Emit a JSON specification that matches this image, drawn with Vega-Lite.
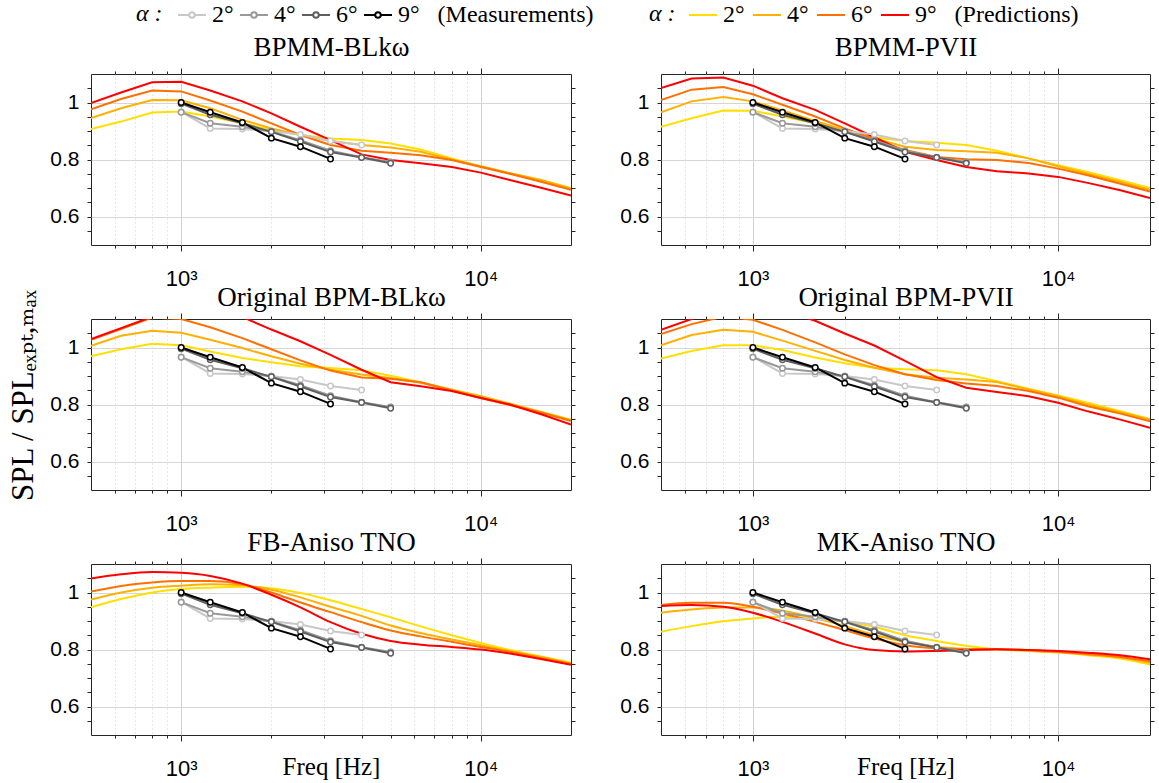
{
"$schema": "https://vega.github.io/schema/vega-lite/v6.json",
"padding": {"left": 7, "top": 0, "right": 0, "bottom": 0},
"config": {"view": {"stroke": "#262626", "strokeWidth": 1}, "font": "Liberation Sans"},
"datasets": {
"meas": [
{"a":2,"f":1000,"v":0.967},{"a":2,"f":1250,"v":0.909},{"a":2,"f":1600,"v":0.907},{"a":2,"f":2000,"v":0.900},{"a":2,"f":2500,"v":0.888},{"a":2,"f":3150,"v":0.865},{"a":2,"f":4000,"v":0.851},
{"a":4,"f":1000,"v":0.966},{"a":4,"f":1250,"v":0.927},{"a":4,"f":1600,"v":0.915},{"a":4,"f":2000,"v":0.898},{"a":4,"f":2500,"v":0.868},{"a":4,"f":3150,"v":0.831},{"a":4,"f":4000,"v":0.808},{"a":4,"f":5000,"v":0.791},
{"a":6,"f":1000,"v":0.996},{"a":6,"f":1250,"v":0.957},{"a":6,"f":1600,"v":0.927},{"a":6,"f":2000,"v":0.897},{"a":6,"f":2500,"v":0.863},{"a":6,"f":3150,"v":0.826},{"a":6,"f":4000,"v":0.807},{"a":6,"f":5000,"v":0.787},
{"a":9,"f":1000,"v":1.0},{"a":9,"f":1250,"v":0.966},{"a":9,"f":1600,"v":0.930},{"a":9,"f":2000,"v":0.875},{"a":9,"f":2500,"v":0.845},{"a":9,"f":3150,"v":0.802}
],
"pred": [
{"m":"BPMM-BLkω","a":"2°","f":500,"v":0.907},{"m":"BPMM-BLkω","a":"2°","f":630,"v":0.933},{"m":"BPMM-BLkω","a":"2°","f":800,"v":0.965},{"m":"BPMM-BLkω","a":"2°","f":1000,"v":0.968},{"m":"BPMM-BLkω","a":"2°","f":1250,"v":0.951},{"m":"BPMM-BLkω","a":"2°","f":1600,"v":0.927},{"m":"BPMM-BLkω","a":"2°","f":2000,"v":0.904},{"m":"BPMM-BLkω","a":"2°","f":2500,"v":0.886},{"m":"BPMM-BLkω","a":"2°","f":3150,"v":0.874},{"m":"BPMM-BLkω","a":"2°","f":4000,"v":0.868},{"m":"BPMM-BLkω","a":"2°","f":5000,"v":0.856},{"m":"BPMM-BLkω","a":"2°","f":6300,"v":0.835},{"m":"BPMM-BLkω","a":"2°","f":8000,"v":0.804},{"m":"BPMM-BLkω","a":"2°","f":10000,"v":0.776},{"m":"BPMM-BLkω","a":"2°","f":12500,"v":0.752},{"m":"BPMM-BLkω","a":"2°","f":16000,"v":0.727},{"m":"BPMM-BLkω","a":"2°","f":20000,"v":0.700},
{"m":"BPMM-BLkω","a":"4°","f":500,"v":0.945},{"m":"BPMM-BLkω","a":"4°","f":630,"v":0.980},{"m":"BPMM-BLkω","a":"4°","f":800,"v":1.009},{"m":"BPMM-BLkω","a":"4°","f":1000,"v":1.008},{"m":"BPMM-BLkω","a":"4°","f":1250,"v":0.980},{"m":"BPMM-BLkω","a":"4°","f":1600,"v":0.939},{"m":"BPMM-BLkω","a":"4°","f":2000,"v":0.909},{"m":"BPMM-BLkω","a":"4°","f":2500,"v":0.886},{"m":"BPMM-BLkω","a":"4°","f":3150,"v":0.865},{"m":"BPMM-BLkω","a":"4°","f":4000,"v":0.851},{"m":"BPMM-BLkω","a":"4°","f":5000,"v":0.842},{"m":"BPMM-BLkω","a":"4°","f":6300,"v":0.827},{"m":"BPMM-BLkω","a":"4°","f":8000,"v":0.800},{"m":"BPMM-BLkω","a":"4°","f":10000,"v":0.776},{"m":"BPMM-BLkω","a":"4°","f":12500,"v":0.752},{"m":"BPMM-BLkω","a":"4°","f":16000,"v":0.727},{"m":"BPMM-BLkω","a":"4°","f":20000,"v":0.698},
{"m":"BPMM-BLkω","a":"6°","f":500,"v":0.976},{"m":"BPMM-BLkω","a":"6°","f":630,"v":1.012},{"m":"BPMM-BLkω","a":"6°","f":800,"v":1.042},{"m":"BPMM-BLkω","a":"6°","f":1000,"v":1.039},{"m":"BPMM-BLkω","a":"6°","f":1250,"v":1.007},{"m":"BPMM-BLkω","a":"6°","f":1600,"v":0.968},{"m":"BPMM-BLkω","a":"6°","f":2000,"v":0.927},{"m":"BPMM-BLkω","a":"6°","f":2500,"v":0.886},{"m":"BPMM-BLkω","a":"6°","f":3150,"v":0.851},{"m":"BPMM-BLkω","a":"6°","f":4000,"v":0.831},{"m":"BPMM-BLkω","a":"6°","f":5000,"v":0.824},{"m":"BPMM-BLkω","a":"6°","f":6300,"v":0.815},{"m":"BPMM-BLkω","a":"6°","f":8000,"v":0.798},{"m":"BPMM-BLkω","a":"6°","f":10000,"v":0.774},{"m":"BPMM-BLkω","a":"6°","f":12500,"v":0.750},{"m":"BPMM-BLkω","a":"6°","f":16000,"v":0.721},{"m":"BPMM-BLkω","a":"6°","f":20000,"v":0.694},
{"m":"BPMM-BLkω","a":"9°","f":500,"v":0.998},{"m":"BPMM-BLkω","a":"9°","f":630,"v":1.035},{"m":"BPMM-BLkω","a":"9°","f":800,"v":1.071},{"m":"BPMM-BLkω","a":"9°","f":1000,"v":1.073},{"m":"BPMM-BLkω","a":"9°","f":1250,"v":1.042},{"m":"BPMM-BLkω","a":"9°","f":1600,"v":1.004},{"m":"BPMM-BLkω","a":"9°","f":2000,"v":0.962},{"m":"BPMM-BLkω","a":"9°","f":2500,"v":0.915},{"m":"BPMM-BLkω","a":"9°","f":3150,"v":0.868},{"m":"BPMM-BLkω","a":"9°","f":4000,"v":0.818},{"m":"BPMM-BLkω","a":"9°","f":5000,"v":0.798},{"m":"BPMM-BLkω","a":"9°","f":6300,"v":0.787},{"m":"BPMM-BLkω","a":"9°","f":8000,"v":0.774},{"m":"BPMM-BLkω","a":"9°","f":10000,"v":0.754},{"m":"BPMM-BLkω","a":"9°","f":12500,"v":0.728},{"m":"BPMM-BLkω","a":"9°","f":16000,"v":0.700},{"m":"BPMM-BLkω","a":"9°","f":20000,"v":0.674},

{"m":"BPMM-PVII","a":"2°","f":500,"v":0.915},{"m":"BPMM-PVII","a":"2°","f":630,"v":0.945},{"m":"BPMM-PVII","a":"2°","f":800,"v":0.972},{"m":"BPMM-PVII","a":"2°","f":1000,"v":0.971},{"m":"BPMM-PVII","a":"2°","f":1250,"v":0.951},{"m":"BPMM-PVII","a":"2°","f":1600,"v":0.927},{"m":"BPMM-PVII","a":"2°","f":2000,"v":0.901},{"m":"BPMM-PVII","a":"2°","f":2500,"v":0.878},{"m":"BPMM-PVII","a":"2°","f":3150,"v":0.865},{"m":"BPMM-PVII","a":"2°","f":4000,"v":0.859},{"m":"BPMM-PVII","a":"2°","f":5000,"v":0.851},{"m":"BPMM-PVII","a":"2°","f":6300,"v":0.831},{"m":"BPMM-PVII","a":"2°","f":8000,"v":0.804},{"m":"BPMM-PVII","a":"2°","f":10000,"v":0.780},{"m":"BPMM-PVII","a":"2°","f":12500,"v":0.756},{"m":"BPMM-PVII","a":"2°","f":16000,"v":0.727},{"m":"BPMM-PVII","a":"2°","f":20000,"v":0.700},
{"m":"BPMM-PVII","a":"4°","f":500,"v":0.966},{"m":"BPMM-PVII","a":"4°","f":630,"v":1.004},{"m":"BPMM-PVII","a":"4°","f":800,"v":1.019},{"m":"BPMM-PVII","a":"4°","f":1000,"v":1.004},{"m":"BPMM-PVII","a":"4°","f":1250,"v":0.972},{"m":"BPMM-PVII","a":"4°","f":1600,"v":0.935},{"m":"BPMM-PVII","a":"4°","f":2000,"v":0.904},{"m":"BPMM-PVII","a":"4°","f":2500,"v":0.874},{"m":"BPMM-PVII","a":"4°","f":3150,"v":0.845},{"m":"BPMM-PVII","a":"4°","f":4000,"v":0.833},{"m":"BPMM-PVII","a":"4°","f":5000,"v":0.829},{"m":"BPMM-PVII","a":"4°","f":6300,"v":0.824},{"m":"BPMM-PVII","a":"4°","f":8000,"v":0.804},{"m":"BPMM-PVII","a":"4°","f":10000,"v":0.776},{"m":"BPMM-PVII","a":"4°","f":12500,"v":0.750},{"m":"BPMM-PVII","a":"4°","f":16000,"v":0.721},{"m":"BPMM-PVII","a":"4°","f":20000,"v":0.694},
{"m":"BPMM-PVII","a":"6°","f":500,"v":1.009},{"m":"BPMM-PVII","a":"6°","f":630,"v":1.045},{"m":"BPMM-PVII","a":"6°","f":800,"v":1.054},{"m":"BPMM-PVII","a":"6°","f":1000,"v":1.029},{"m":"BPMM-PVII","a":"6°","f":1250,"v":0.992},{"m":"BPMM-PVII","a":"6°","f":1600,"v":0.951},{"m":"BPMM-PVII","a":"6°","f":2000,"v":0.909},{"m":"BPMM-PVII","a":"6°","f":2500,"v":0.871},{"m":"BPMM-PVII","a":"6°","f":3150,"v":0.833},{"m":"BPMM-PVII","a":"6°","f":4000,"v":0.809},{"m":"BPMM-PVII","a":"6°","f":5000,"v":0.801},{"m":"BPMM-PVII","a":"6°","f":6300,"v":0.798},{"m":"BPMM-PVII","a":"6°","f":8000,"v":0.788},{"m":"BPMM-PVII","a":"6°","f":10000,"v":0.768},{"m":"BPMM-PVII","a":"6°","f":12500,"v":0.745},{"m":"BPMM-PVII","a":"6°","f":16000,"v":0.715},{"m":"BPMM-PVII","a":"6°","f":20000,"v":0.688},
{"m":"BPMM-PVII","a":"9°","f":500,"v":1.051},{"m":"BPMM-PVII","a":"9°","f":630,"v":1.084},{"m":"BPMM-PVII","a":"9°","f":800,"v":1.088},{"m":"BPMM-PVII","a":"9°","f":1000,"v":1.059},{"m":"BPMM-PVII","a":"9°","f":1250,"v":1.015},{"m":"BPMM-PVII","a":"9°","f":1600,"v":0.974},{"m":"BPMM-PVII","a":"9°","f":2000,"v":0.927},{"m":"BPMM-PVII","a":"9°","f":2500,"v":0.878},{"m":"BPMM-PVII","a":"9°","f":3150,"v":0.827},{"m":"BPMM-PVII","a":"9°","f":4000,"v":0.798},{"m":"BPMM-PVII","a":"9°","f":5000,"v":0.774},{"m":"BPMM-PVII","a":"9°","f":6300,"v":0.759},{"m":"BPMM-PVII","a":"9°","f":8000,"v":0.751},{"m":"BPMM-PVII","a":"9°","f":10000,"v":0.739},{"m":"BPMM-PVII","a":"9°","f":12500,"v":0.718},{"m":"BPMM-PVII","a":"9°","f":16000,"v":0.692},{"m":"BPMM-PVII","a":"9°","f":20000,"v":0.665},

{"m":"Original BPM-BLkω","a":"2°","f":500,"v":0.969},{"m":"Original BPM-BLkω","a":"2°","f":630,"v":0.994},{"m":"Original BPM-BLkω","a":"2°","f":800,"v":1.013},{"m":"Original BPM-BLkω","a":"2°","f":1000,"v":1.008},{"m":"Original BPM-BLkω","a":"2°","f":1250,"v":0.986},{"m":"Original BPM-BLkω","a":"2°","f":1600,"v":0.963},{"m":"Original BPM-BLkω","a":"2°","f":2000,"v":0.948},{"m":"Original BPM-BLkω","a":"2°","f":2500,"v":0.934},{"m":"Original BPM-BLkω","a":"2°","f":3150,"v":0.928},{"m":"Original BPM-BLkω","a":"2°","f":4000,"v":0.920},{"m":"Original BPM-BLkω","a":"2°","f":5000,"v":0.901},{"m":"Original BPM-BLkω","a":"2°","f":6300,"v":0.878},{"m":"Original BPM-BLkω","a":"2°","f":8000,"v":0.852},{"m":"Original BPM-BLkω","a":"2°","f":10000,"v":0.829},{"m":"Original BPM-BLkω","a":"2°","f":12500,"v":0.803},{"m":"Original BPM-BLkω","a":"2°","f":16000,"v":0.773},{"m":"Original BPM-BLkω","a":"2°","f":20000,"v":0.747},
{"m":"Original BPM-BLkω","a":"4°","f":500,"v":1.006},{"m":"Original BPM-BLkω","a":"4°","f":630,"v":1.041},{"m":"Original BPM-BLkω","a":"4°","f":800,"v":1.059},{"m":"Original BPM-BLkω","a":"4°","f":1000,"v":1.052},{"m":"Original BPM-BLkω","a":"4°","f":1250,"v":1.027},{"m":"Original BPM-BLkω","a":"4°","f":1600,"v":0.998},{"m":"Original BPM-BLkω","a":"4°","f":2000,"v":0.969},{"m":"Original BPM-BLkω","a":"4°","f":2500,"v":0.943},{"m":"Original BPM-BLkω","a":"4°","f":3150,"v":0.922},{"m":"Original BPM-BLkω","a":"4°","f":4000,"v":0.905},{"m":"Original BPM-BLkω","a":"4°","f":5000,"v":0.893},{"m":"Original BPM-BLkω","a":"4°","f":6300,"v":0.876},{"m":"Original BPM-BLkω","a":"4°","f":8000,"v":0.852},{"m":"Original BPM-BLkω","a":"4°","f":10000,"v":0.829},{"m":"Original BPM-BLkω","a":"4°","f":12500,"v":0.803},{"m":"Original BPM-BLkω","a":"4°","f":16000,"v":0.773},{"m":"Original BPM-BLkω","a":"4°","f":20000,"v":0.745},
{"m":"Original BPM-BLkω","a":"6°","f":500,"v":1.027},{"m":"Original BPM-BLkω","a":"6°","f":630,"v":1.065},{"m":"Original BPM-BLkω","a":"6°","f":800,"v":1.105},{"m":"Original BPM-BLkω","a":"6°","f":1000,"v":1.100},{"m":"Original BPM-BLkω","a":"6°","f":1250,"v":1.071},{"m":"Original BPM-BLkω","a":"6°","f":1600,"v":1.033},{"m":"Original BPM-BLkω","a":"6°","f":2000,"v":0.994},{"m":"Original BPM-BLkω","a":"6°","f":2500,"v":0.955},{"m":"Original BPM-BLkω","a":"6°","f":3150,"v":0.919},{"m":"Original BPM-BLkω","a":"6°","f":4000,"v":0.895},{"m":"Original BPM-BLkω","a":"6°","f":5000,"v":0.890},{"m":"Original BPM-BLkω","a":"6°","f":6300,"v":0.878},{"m":"Original BPM-BLkω","a":"6°","f":8000,"v":0.849},{"m":"Original BPM-BLkω","a":"6°","f":10000,"v":0.823},{"m":"Original BPM-BLkω","a":"6°","f":12500,"v":0.798},{"m":"Original BPM-BLkω","a":"6°","f":16000,"v":0.771},{"m":"Original BPM-BLkω","a":"6°","f":20000,"v":0.742},
{"m":"Original BPM-BLkω","a":"9°","f":500,"v":1.030},{"m":"Original BPM-BLkω","a":"9°","f":630,"v":1.068},{"m":"Original BPM-BLkω","a":"9°","f":800,"v":1.108},{"m":"Original BPM-BLkω","a":"9°","f":1000,"v":1.150},{"m":"Original BPM-BLkω","a":"9°","f":1250,"v":1.160},{"m":"Original BPM-BLkω","a":"9°","f":1600,"v":1.107},{"m":"Original BPM-BLkω","a":"9°","f":2000,"v":1.063},{"m":"Original BPM-BLkω","a":"9°","f":2500,"v":1.022},{"m":"Original BPM-BLkω","a":"9°","f":3150,"v":0.974},{"m":"Original BPM-BLkω","a":"9°","f":4000,"v":0.922},{"m":"Original BPM-BLkω","a":"9°","f":5000,"v":0.878},{"m":"Original BPM-BLkω","a":"9°","f":6300,"v":0.864},{"m":"Original BPM-BLkω","a":"9°","f":8000,"v":0.847},{"m":"Original BPM-BLkω","a":"9°","f":10000,"v":0.823},{"m":"Original BPM-BLkω","a":"9°","f":12500,"v":0.800},{"m":"Original BPM-BLkω","a":"9°","f":16000,"v":0.765},{"m":"Original BPM-BLkω","a":"9°","f":20000,"v":0.730},

{"m":"Original BPM-PVII","a":"2°","f":500,"v":0.961},{"m":"Original BPM-PVII","a":"2°","f":630,"v":0.988},{"m":"Original BPM-PVII","a":"2°","f":800,"v":1.008},{"m":"Original BPM-PVII","a":"2°","f":1000,"v":1.008},{"m":"Original BPM-PVII","a":"2°","f":1250,"v":0.991},{"m":"Original BPM-PVII","a":"2°","f":1600,"v":0.965},{"m":"Original BPM-PVII","a":"2°","f":2000,"v":0.945},{"m":"Original BPM-PVII","a":"2°","f":2500,"v":0.929},{"m":"Original BPM-PVII","a":"2°","f":3150,"v":0.924},{"m":"Original BPM-PVII","a":"2°","f":4000,"v":0.920},{"m":"Original BPM-PVII","a":"2°","f":5000,"v":0.906},{"m":"Original BPM-PVII","a":"2°","f":6300,"v":0.882},{"m":"Original BPM-PVII","a":"2°","f":8000,"v":0.855},{"m":"Original BPM-PVII","a":"2°","f":10000,"v":0.832},{"m":"Original BPM-PVII","a":"2°","f":12500,"v":0.806},{"m":"Original BPM-PVII","a":"2°","f":16000,"v":0.776},{"m":"Original BPM-PVII","a":"2°","f":20000,"v":0.749},
{"m":"Original BPM-PVII","a":"4°","f":500,"v":1.008},{"m":"Original BPM-PVII","a":"4°","f":630,"v":1.044},{"m":"Original BPM-PVII","a":"4°","f":800,"v":1.062},{"m":"Original BPM-PVII","a":"4°","f":1000,"v":1.055},{"m":"Original BPM-PVII","a":"4°","f":1250,"v":1.024},{"m":"Original BPM-PVII","a":"4°","f":1600,"v":0.988},{"m":"Original BPM-PVII","a":"4°","f":2000,"v":0.956},{"m":"Original BPM-PVII","a":"4°","f":2500,"v":0.929},{"m":"Original BPM-PVII","a":"4°","f":3150,"v":0.906},{"m":"Original BPM-PVII","a":"4°","f":4000,"v":0.894},{"m":"Original BPM-PVII","a":"4°","f":5000,"v":0.888},{"m":"Original BPM-PVII","a":"4°","f":6300,"v":0.879},{"m":"Original BPM-PVII","a":"4°","f":8000,"v":0.853},{"m":"Original BPM-PVII","a":"4°","f":10000,"v":0.829},{"m":"Original BPM-PVII","a":"4°","f":12500,"v":0.800},{"m":"Original BPM-PVII","a":"4°","f":16000,"v":0.773},{"m":"Original BPM-PVII","a":"4°","f":20000,"v":0.747},
{"m":"Original BPM-PVII","a":"6°","f":500,"v":1.047},{"m":"Original BPM-PVII","a":"6°","f":630,"v":1.082},{"m":"Original BPM-PVII","a":"6°","f":800,"v":1.108},{"m":"Original BPM-PVII","a":"6°","f":1000,"v":1.097},{"m":"Original BPM-PVII","a":"6°","f":1250,"v":1.062},{"m":"Original BPM-PVII","a":"6°","f":1600,"v":1.018},{"m":"Original BPM-PVII","a":"6°","f":2000,"v":0.976},{"m":"Original BPM-PVII","a":"6°","f":2500,"v":0.938},{"m":"Original BPM-PVII","a":"6°","f":3150,"v":0.906},{"m":"Original BPM-PVII","a":"6°","f":4000,"v":0.886},{"m":"Original BPM-PVII","a":"6°","f":5000,"v":0.874},{"m":"Original BPM-PVII","a":"6°","f":6300,"v":0.865},{"m":"Original BPM-PVII","a":"6°","f":8000,"v":0.847},{"m":"Original BPM-PVII","a":"6°","f":10000,"v":0.824},{"m":"Original BPM-PVII","a":"6°","f":12500,"v":0.794},{"m":"Original BPM-PVII","a":"6°","f":16000,"v":0.768},{"m":"Original BPM-PVII","a":"6°","f":20000,"v":0.741},
{"m":"Original BPM-PVII","a":"9°","f":500,"v":1.062},{"m":"Original BPM-PVII","a":"9°","f":630,"v":1.100},{"m":"Original BPM-PVII","a":"9°","f":800,"v":1.140},{"m":"Original BPM-PVII","a":"9°","f":1000,"v":1.160},{"m":"Original BPM-PVII","a":"9°","f":1250,"v":1.130},{"m":"Original BPM-PVII","a":"9°","f":1600,"v":1.094},{"m":"Original BPM-PVII","a":"9°","f":2000,"v":1.049},{"m":"Original BPM-PVII","a":"9°","f":2500,"v":1.007},{"m":"Original BPM-PVII","a":"9°","f":3150,"v":0.953},{"m":"Original BPM-PVII","a":"9°","f":4000,"v":0.896},{"m":"Original BPM-PVII","a":"9°","f":5000,"v":0.859},{"m":"Original BPM-PVII","a":"9°","f":6300,"v":0.844},{"m":"Original BPM-PVII","a":"9°","f":8000,"v":0.829},{"m":"Original BPM-PVII","a":"9°","f":10000,"v":0.806},{"m":"Original BPM-PVII","a":"9°","f":12500,"v":0.776},{"m":"Original BPM-PVII","a":"9°","f":16000,"v":0.747},{"m":"Original BPM-PVII","a":"9°","f":20000,"v":0.718},

{"m":"FB-Aniso TNO","a":"2°","f":500,"v":0.948},{"m":"FB-Aniso TNO","a":"2°","f":630,"v":0.977},{"m":"FB-Aniso TNO","a":"2°","f":800,"v":1.000},{"m":"FB-Aniso TNO","a":"2°","f":1000,"v":1.012},{"m":"FB-Aniso TNO","a":"2°","f":1250,"v":1.017},{"m":"FB-Aniso TNO","a":"2°","f":1600,"v":1.020},{"m":"FB-Aniso TNO","a":"2°","f":2000,"v":1.015},{"m":"FB-Aniso TNO","a":"2°","f":2500,"v":0.998},{"m":"FB-Aniso TNO","a":"2°","f":3150,"v":0.973},{"m":"FB-Aniso TNO","a":"2°","f":4000,"v":0.942},{"m":"FB-Aniso TNO","a":"2°","f":5000,"v":0.913},{"m":"FB-Aniso TNO","a":"2°","f":6300,"v":0.881},{"m":"FB-Aniso TNO","a":"2°","f":8000,"v":0.850},{"m":"FB-Aniso TNO","a":"2°","f":10000,"v":0.823},{"m":"FB-Aniso TNO","a":"2°","f":12500,"v":0.798},{"m":"FB-Aniso TNO","a":"2°","f":16000,"v":0.775},{"m":"FB-Aniso TNO","a":"2°","f":20000,"v":0.754},
{"m":"FB-Aniso TNO","a":"4°","f":500,"v":0.975},{"m":"FB-Aniso TNO","a":"4°","f":630,"v":1.000},{"m":"FB-Aniso TNO","a":"4°","f":800,"v":1.017},{"m":"FB-Aniso TNO","a":"4°","f":1000,"v":1.024},{"m":"FB-Aniso TNO","a":"4°","f":1250,"v":1.029},{"m":"FB-Aniso TNO","a":"4°","f":1600,"v":1.025},{"m":"FB-Aniso TNO","a":"4°","f":2000,"v":1.010},{"m":"FB-Aniso TNO","a":"4°","f":2500,"v":0.983},{"m":"FB-Aniso TNO","a":"4°","f":3150,"v":0.950},{"m":"FB-Aniso TNO","a":"4°","f":4000,"v":0.918},{"m":"FB-Aniso TNO","a":"4°","f":5000,"v":0.884},{"m":"FB-Aniso TNO","a":"4°","f":6300,"v":0.858},{"m":"FB-Aniso TNO","a":"4°","f":8000,"v":0.835},{"m":"FB-Aniso TNO","a":"4°","f":10000,"v":0.815},{"m":"FB-Aniso TNO","a":"4°","f":12500,"v":0.794},{"m":"FB-Aniso TNO","a":"4°","f":16000,"v":0.773},{"m":"FB-Aniso TNO","a":"4°","f":20000,"v":0.751},
{"m":"FB-Aniso TNO","a":"6°","f":500,"v":1.003},{"m":"FB-Aniso TNO","a":"6°","f":630,"v":1.023},{"m":"FB-Aniso TNO","a":"6°","f":800,"v":1.035},{"m":"FB-Aniso TNO","a":"6°","f":1000,"v":1.040},{"m":"FB-Aniso TNO","a":"6°","f":1250,"v":1.040},{"m":"FB-Aniso TNO","a":"6°","f":1600,"v":1.029},{"m":"FB-Aniso TNO","a":"6°","f":2000,"v":1.000},{"m":"FB-Aniso TNO","a":"6°","f":2500,"v":0.965},{"m":"FB-Aniso TNO","a":"6°","f":3150,"v":0.931},{"m":"FB-Aniso TNO","a":"6°","f":4000,"v":0.896},{"m":"FB-Aniso TNO","a":"6°","f":5000,"v":0.867},{"m":"FB-Aniso TNO","a":"6°","f":6300,"v":0.846},{"m":"FB-Aniso TNO","a":"6°","f":8000,"v":0.827},{"m":"FB-Aniso TNO","a":"6°","f":10000,"v":0.809},{"m":"FB-Aniso TNO","a":"6°","f":12500,"v":0.792},{"m":"FB-Aniso TNO","a":"6°","f":16000,"v":0.769},{"m":"FB-Aniso TNO","a":"6°","f":20000,"v":0.749},
{"m":"FB-Aniso TNO","a":"9°","f":500,"v":1.049},{"m":"FB-Aniso TNO","a":"9°","f":630,"v":1.064},{"m":"FB-Aniso TNO","a":"9°","f":800,"v":1.072},{"m":"FB-Aniso TNO","a":"9°","f":1000,"v":1.069},{"m":"FB-Aniso TNO","a":"9°","f":1250,"v":1.058},{"m":"FB-Aniso TNO","a":"9°","f":1600,"v":1.031},{"m":"FB-Aniso TNO","a":"9°","f":2000,"v":0.992},{"m":"FB-Aniso TNO","a":"9°","f":2500,"v":0.948},{"m":"FB-Aniso TNO","a":"9°","f":3150,"v":0.896},{"m":"FB-Aniso TNO","a":"9°","f":4000,"v":0.855},{"m":"FB-Aniso TNO","a":"9°","f":5000,"v":0.830},{"m":"FB-Aniso TNO","a":"9°","f":6300,"v":0.817},{"m":"FB-Aniso TNO","a":"9°","f":8000,"v":0.809},{"m":"FB-Aniso TNO","a":"9°","f":10000,"v":0.800},{"m":"FB-Aniso TNO","a":"9°","f":12500,"v":0.786},{"m":"FB-Aniso TNO","a":"9°","f":16000,"v":0.766},{"m":"FB-Aniso TNO","a":"9°","f":20000,"v":0.746},

{"m":"MK-Aniso TNO","a":"2°","f":500,"v":0.862},{"m":"MK-Aniso TNO","a":"2°","f":630,"v":0.882},{"m":"MK-Aniso TNO","a":"2°","f":800,"v":0.899},{"m":"MK-Aniso TNO","a":"2°","f":1000,"v":0.909},{"m":"MK-Aniso TNO","a":"2°","f":1250,"v":0.915},{"m":"MK-Aniso TNO","a":"2°","f":1600,"v":0.909},{"m":"MK-Aniso TNO","a":"2°","f":2000,"v":0.897},{"m":"MK-Aniso TNO","a":"2°","f":2500,"v":0.880},{"m":"MK-Aniso TNO","a":"2°","f":3150,"v":0.850},{"m":"MK-Aniso TNO","a":"2°","f":4000,"v":0.830},{"m":"MK-Aniso TNO","a":"2°","f":5000,"v":0.813},{"m":"MK-Aniso TNO","a":"2°","f":6300,"v":0.801},{"m":"MK-Aniso TNO","a":"2°","f":8000,"v":0.795},{"m":"MK-Aniso TNO","a":"2°","f":10000,"v":0.790},{"m":"MK-Aniso TNO","a":"2°","f":12500,"v":0.780},{"m":"MK-Aniso TNO","a":"2°","f":16000,"v":0.768},{"m":"MK-Aniso TNO","a":"2°","f":20000,"v":0.747},
{"m":"MK-Aniso TNO","a":"4°","f":500,"v":0.929},{"m":"MK-Aniso TNO","a":"4°","f":630,"v":0.940},{"m":"MK-Aniso TNO","a":"4°","f":800,"v":0.947},{"m":"MK-Aniso TNO","a":"4°","f":1000,"v":0.947},{"m":"MK-Aniso TNO","a":"4°","f":1250,"v":0.936},{"m":"MK-Aniso TNO","a":"4°","f":1600,"v":0.910},{"m":"MK-Aniso TNO","a":"4°","f":2000,"v":0.882},{"m":"MK-Aniso TNO","a":"4°","f":2500,"v":0.851},{"m":"MK-Aniso TNO","a":"4°","f":3150,"v":0.827},{"m":"MK-Aniso TNO","a":"4°","f":4000,"v":0.810},{"m":"MK-Aniso TNO","a":"4°","f":5000,"v":0.803},{"m":"MK-Aniso TNO","a":"4°","f":6300,"v":0.801},{"m":"MK-Aniso TNO","a":"4°","f":8000,"v":0.796},{"m":"MK-Aniso TNO","a":"4°","f":10000,"v":0.790},{"m":"MK-Aniso TNO","a":"4°","f":12500,"v":0.782},{"m":"MK-Aniso TNO","a":"4°","f":16000,"v":0.772},{"m":"MK-Aniso TNO","a":"4°","f":20000,"v":0.753},
{"m":"MK-Aniso TNO","a":"6°","f":500,"v":0.956},{"m":"MK-Aniso TNO","a":"6°","f":630,"v":0.964},{"m":"MK-Aniso TNO","a":"6°","f":800,"v":0.964},{"m":"MK-Aniso TNO","a":"6°","f":1000,"v":0.950},{"m":"MK-Aniso TNO","a":"6°","f":1250,"v":0.926},{"m":"MK-Aniso TNO","a":"6°","f":1600,"v":0.897},{"m":"MK-Aniso TNO","a":"6°","f":2000,"v":0.868},{"m":"MK-Aniso TNO","a":"6°","f":2500,"v":0.839},{"m":"MK-Aniso TNO","a":"6°","f":3150,"v":0.815},{"m":"MK-Aniso TNO","a":"6°","f":4000,"v":0.804},{"m":"MK-Aniso TNO","a":"6°","f":5000,"v":0.801},{"m":"MK-Aniso TNO","a":"6°","f":6300,"v":0.801},{"m":"MK-Aniso TNO","a":"6°","f":8000,"v":0.798},{"m":"MK-Aniso TNO","a":"6°","f":10000,"v":0.792},{"m":"MK-Aniso TNO","a":"6°","f":12500,"v":0.784},{"m":"MK-Aniso TNO","a":"6°","f":16000,"v":0.774},{"m":"MK-Aniso TNO","a":"6°","f":20000,"v":0.759},
{"m":"MK-Aniso TNO","a":"9°","f":500,"v":0.953},{"m":"MK-Aniso TNO","a":"9°","f":630,"v":0.956},{"m":"MK-Aniso TNO","a":"9°","f":800,"v":0.950},{"m":"MK-Aniso TNO","a":"9°","f":1000,"v":0.929},{"m":"MK-Aniso TNO","a":"9°","f":1250,"v":0.897},{"m":"MK-Aniso TNO","a":"9°","f":1600,"v":0.856},{"m":"MK-Aniso TNO","a":"9°","f":2000,"v":0.818},{"m":"MK-Aniso TNO","a":"9°","f":2500,"v":0.798},{"m":"MK-Aniso TNO","a":"9°","f":3150,"v":0.793},{"m":"MK-Aniso TNO","a":"9°","f":4000,"v":0.795},{"m":"MK-Aniso TNO","a":"9°","f":5000,"v":0.798},{"m":"MK-Aniso TNO","a":"9°","f":6300,"v":0.801},{"m":"MK-Aniso TNO","a":"9°","f":8000,"v":0.798},{"m":"MK-Aniso TNO","a":"9°","f":10000,"v":0.795},{"m":"MK-Aniso TNO","a":"9°","f":12500,"v":0.789},{"m":"MK-Aniso TNO","a":"9°","f":16000,"v":0.780},{"m":"MK-Aniso TNO","a":"9°","f":20000,"v":0.766}
]
},
"columns": 2,
"bounds": "flush",
"spacing": {"row": 74, "column": 90},
"concat": [
{
 "width": 480, "height": 171,
 "layer": [
  {"data": {"name": "pred"}, "transform": [{"filter": "datum.m == 'BPMM-BLkω'"}],
   "mark": {"type": "line", "clip": true, "strokeWidth": 2},
   "encoding": {
    "x": {"field": "f", "type": "quantitative", "scale": {"type": "log", "domain": [500, 20000], "nice": false},
      "axis": {"orient": "bottom", "values": [600,700,800,900,1000,2000,3000,4000,5000,6000,7000,8000,9000,10000], "labelExpr": "datum.value == 1000 ? '10³' : (datum.value == 10000 ? '10⁴' : '')", "labelFont": "Liberation Sans", "labelFontSize": 22, "labelColor": "black", "labelPadding": 17, "labelOverlap": false, "labelFlush": false, "domain": false, "tickColor": "#262626", "tickSize": {"condition": {"test": "datum.value == 1000 || datum.value == 10000", "value": 6}, "value": 3}, "grid": true, "gridColor": "#d0d0d0", "gridDash": {"condition": {"test": "datum.value == 1000 || datum.value == 10000", "value": []}, "value": [1, 3]}, "title": null}},
    "y": {"field": "v", "type": "quantitative", "scale": {"domain": [0.5, 1.1], "nice": false, "zero": false},
      "axis": {"orient": "left", "values": [0.55,0.6,0.65,0.7,0.75,0.8,0.85,0.9,0.95,1,1.05], "labelExpr": "abs(datum.value-0.6)<0.001 ? '0.6' : (abs(datum.value-0.8)<0.001 ? '0.8' : (abs(datum.value-1)<0.001 ? '1' : ''))", "labelFont": "Liberation Sans", "labelFontSize": 21, "labelColor": "black", "labelPadding": 8, "labelOverlap": false, "labelFlush": false, "domain": false, "tickColor": "#262626", "tickSize": 4, "grid": true, "gridColor": "#d6d6d6", "gridOpacity": {"condition": {"test": "abs(datum.value-0.6)<0.001 || abs(datum.value-0.8)<0.001 || abs(datum.value-1)<0.001", "value": 1}, "value": 0}, "title": null}},
    "stroke": {"field": "a", "type": "nominal", "scale": {"domain": ["2°","4°","6°","9°"], "range": ["#ffdf00","#ffb000","#ff7000","#ff0000"]},
      "legend": {"orient": "none", "legendX": 558, "legendY": -74, "direction": "horizontal", "title": "α :", "titleOrient": "left", "titleFont": "Liberation Serif", "titleFontSize": 24, "titleFontWeight": "normal", "titleFontStyle": "italic", "titleColor": "black", "titlePadding": 12, "titleBaseline": "middle", "labelFont": "Liberation Serif", "labelFontSize": 24, "labelColor": "black", "labelOffset": 5, "labelLimit": 400, "columnPadding": 4, "symbolType": "stroke", "symbolSize": 784, "symbolStrokeWidth": 2, "labelExpr": "datum.label == '9°' ? '9°\u00a0\u00a0\u00a0(Predictions)' : datum.label"}}
   }},
  {"data": {"name": "meas"},
   "mark": {"type": "line", "strokeWidth": 2, "point": {"filled": false, "fill": "white", "size": 30, "strokeWidth": 1.5}},
   "encoding": {
    "x": {"field": "f", "type": "quantitative", "scale": {"type": "log", "domain": [500, 20000], "nice": false}, "axis": null},
    "y": {"field": "v", "type": "quantitative", "scale": {"domain": [0.5, 1.1], "nice": false, "zero": false}, "axis": null},
    "color": {"field": "a", "type": "nominal", "scale": {"domain": [2, 4, 6, 9], "range": ["#c8c8c8","#999999","#5f5f5f","#000000"]},
      "legend": {"orient": "none", "legendX": 45, "legendY": -74, "direction": "horizontal", "title": "α :", "titleOrient": "left", "titleFont": "Liberation Serif", "titleFontSize": 24, "titleFontWeight": "normal", "titleFontStyle": "italic", "titleColor": "black", "titlePadding": 14, "titleBaseline": "middle", "labelFont": "Liberation Serif", "labelFontSize": 24, "labelColor": "black", "labelOffset": 5, "labelLimit": 400, "columnPadding": 2, "symbolType": "M-1,0H-0.2M0.2,0H1M-0.2,0A0.2,0.2,0,1,1,0.2,0A0.2,0.2,0,1,1,-0.2,0", "symbolSize": 784, "symbolStrokeWidth": 2, "labelExpr": "datum.value == 9 ? '9°\u00a0\u00a0\u00a0(Measurements)' : datum.label + '°'"}}
   }},
  {"data": {"name": "meas"}, "mark": {"type": "point", "opacity": 0},
   "encoding": {
    "x": {"field": "f", "type": "quantitative", "scale": {"type": "log", "domain": [500, 20000], "nice": false}, "axis": {"orient": "top", "values": [600,700,800,900,1000,2000,3000,4000,5000,6000,7000,8000,9000,10000], "labels": false, "domain": false, "grid": false, "tickColor": "#262626", "tickSize": {"condition": {"test": "datum.value == 1000 || datum.value == 10000", "value": 6}, "value": 3}, "title": "BPMM-BLkω", "titleFont": "Liberation Serif", "titleFontSize": 27, "titleFontWeight": "normal", "titleColor": "black", "titleBaseline": "alphabetic", "titleY": -19}},
    "y": {"field": "v", "type": "quantitative", "scale": {"domain": [0.5, 1.1], "nice": false, "zero": false}, "axis": {"orient": "right", "values": [0.55,0.6,0.65,0.7,0.75,0.8,0.85,0.9,0.95,1,1.05], "labels": false, "domain": false, "grid": false, "tickColor": "#262626", "tickSize": 4, "title": null}}
   }}
 ]
},
{
 "width": 489, "height": 171,
 "layer": [
  {"data": {"name": "pred"}, "transform": [{"filter": "datum.m == 'BPMM-PVII'"}],
   "mark": {"type": "line", "clip": true, "strokeWidth": 2},
   "encoding": {
    "x": {"field": "f", "type": "quantitative", "scale": {"type": "log", "domain": [500, 20000], "nice": false},
      "axis": {"orient": "bottom", "values": [600,700,800,900,1000,2000,3000,4000,5000,6000,7000,8000,9000,10000], "labelExpr": "datum.value == 1000 ? '10³' : (datum.value == 10000 ? '10⁴' : '')", "labelFont": "Liberation Sans", "labelFontSize": 22, "labelColor": "black", "labelPadding": 17, "labelOverlap": false, "labelFlush": false, "domain": false, "tickColor": "#262626", "tickSize": {"condition": {"test": "datum.value == 1000 || datum.value == 10000", "value": 6}, "value": 3}, "grid": true, "gridColor": "#d0d0d0", "gridDash": {"condition": {"test": "datum.value == 1000 || datum.value == 10000", "value": []}, "value": [1, 3]}, "title": null}},
    "y": {"field": "v", "type": "quantitative", "scale": {"domain": [0.5, 1.1], "nice": false, "zero": false},
      "axis": {"orient": "left", "values": [0.55,0.6,0.65,0.7,0.75,0.8,0.85,0.9,0.95,1,1.05], "labelExpr": "abs(datum.value-0.6)<0.001 ? '0.6' : (abs(datum.value-0.8)<0.001 ? '0.8' : (abs(datum.value-1)<0.001 ? '1' : ''))", "labelFont": "Liberation Sans", "labelFontSize": 21, "labelColor": "black", "labelPadding": 8, "labelOverlap": false, "labelFlush": false, "domain": false, "tickColor": "#262626", "tickSize": 4, "grid": true, "gridColor": "#d6d6d6", "gridOpacity": {"condition": {"test": "abs(datum.value-0.6)<0.001 || abs(datum.value-0.8)<0.001 || abs(datum.value-1)<0.001", "value": 1}, "value": 0}, "title": null}},
    "stroke": {"field": "a", "type": "nominal", "scale": {"domain": ["2°","4°","6°","9°"], "range": ["#ffdf00","#ffb000","#ff7000","#ff0000"]}, "legend": null}
   }},
  {"data": {"name": "meas"},
   "mark": {"type": "line", "strokeWidth": 2, "point": {"filled": false, "fill": "white", "size": 30, "strokeWidth": 1.5}},
   "encoding": {
    "x": {"field": "f", "type": "quantitative", "scale": {"type": "log", "domain": [500, 20000], "nice": false}, "axis": null},
    "y": {"field": "v", "type": "quantitative", "scale": {"domain": [0.5, 1.1], "nice": false, "zero": false}, "axis": null},
    "color": {"field": "a", "type": "nominal", "scale": {"domain": [2, 4, 6, 9], "range": ["#c8c8c8","#999999","#5f5f5f","#000000"]}, "legend": null}
   }},
  {"data": {"name": "meas"}, "mark": {"type": "point", "opacity": 0},
   "encoding": {
    "x": {"field": "f", "type": "quantitative", "scale": {"type": "log", "domain": [500, 20000], "nice": false}, "axis": {"orient": "top", "values": [600,700,800,900,1000,2000,3000,4000,5000,6000,7000,8000,9000,10000], "labels": false, "domain": false, "grid": false, "tickColor": "#262626", "tickSize": {"condition": {"test": "datum.value == 1000 || datum.value == 10000", "value": 6}, "value": 3}, "title": "BPMM-PVII", "titleFont": "Liberation Serif", "titleFontSize": 27, "titleFontWeight": "normal", "titleColor": "black", "titleBaseline": "alphabetic", "titleY": -19}},
    "y": {"field": "v", "type": "quantitative", "scale": {"domain": [0.5, 1.1], "nice": false, "zero": false}, "axis": {"orient": "right", "values": [0.55,0.6,0.65,0.7,0.75,0.8,0.85,0.9,0.95,1,1.05], "labels": false, "domain": false, "grid": false, "tickColor": "#262626", "tickSize": 4, "title": null}}
   }}
 ]
},
{
 "width": 480, "height": 171,
 "layer": [
  {"data": {"name": "pred"}, "transform": [{"filter": "datum.m == 'Original BPM-BLkω'"}],
   "mark": {"type": "line", "clip": true, "strokeWidth": 2},
   "encoding": {
    "x": {"field": "f", "type": "quantitative", "scale": {"type": "log", "domain": [500, 20000], "nice": false},
      "axis": {"orient": "bottom", "values": [600,700,800,900,1000,2000,3000,4000,5000,6000,7000,8000,9000,10000], "labelExpr": "datum.value == 1000 ? '10³' : (datum.value == 10000 ? '10⁴' : '')", "labelFont": "Liberation Sans", "labelFontSize": 22, "labelColor": "black", "labelPadding": 17, "labelOverlap": false, "labelFlush": false, "domain": false, "tickColor": "#262626", "tickSize": {"condition": {"test": "datum.value == 1000 || datum.value == 10000", "value": 6}, "value": 3}, "grid": true, "gridColor": "#d0d0d0", "gridDash": {"condition": {"test": "datum.value == 1000 || datum.value == 10000", "value": []}, "value": [1, 3]}, "title": null}},
    "y": {"field": "v", "type": "quantitative", "scale": {"domain": [0.5, 1.1], "nice": false, "zero": false},
      "axis": {"orient": "left", "values": [0.55,0.6,0.65,0.7,0.75,0.8,0.85,0.9,0.95,1,1.05], "labelExpr": "abs(datum.value-0.6)<0.001 ? '0.6' : (abs(datum.value-0.8)<0.001 ? '0.8' : (abs(datum.value-1)<0.001 ? '1' : ''))", "labelFont": "Liberation Sans", "labelFontSize": 21, "labelColor": "black", "labelPadding": 8, "labelOverlap": false, "labelFlush": false, "domain": false, "tickColor": "#262626", "tickSize": 4, "grid": true, "gridColor": "#d6d6d6", "gridOpacity": {"condition": {"test": "abs(datum.value-0.6)<0.001 || abs(datum.value-0.8)<0.001 || abs(datum.value-1)<0.001", "value": 1}, "value": 0}, "title": "SPL / SPLₑₓₚₜ,ₘₐₓ", "titleFont": "Liberation Serif, DejaVu Serif", "titleFontSize": 31, "titleFontWeight": "normal", "titleColor": "black", "titlePadding": 10, "titleY": 76}},
    "stroke": {"field": "a", "type": "nominal", "scale": {"domain": ["2°","4°","6°","9°"], "range": ["#ffdf00","#ffb000","#ff7000","#ff0000"]}, "legend": null}
   }},
  {"data": {"name": "meas"},
   "mark": {"type": "line", "strokeWidth": 2, "point": {"filled": false, "fill": "white", "size": 30, "strokeWidth": 1.5}},
   "encoding": {
    "x": {"field": "f", "type": "quantitative", "scale": {"type": "log", "domain": [500, 20000], "nice": false}, "axis": null},
    "y": {"field": "v", "type": "quantitative", "scale": {"domain": [0.5, 1.1], "nice": false, "zero": false}, "axis": null},
    "color": {"field": "a", "type": "nominal", "scale": {"domain": [2, 4, 6, 9], "range": ["#c8c8c8","#999999","#5f5f5f","#000000"]}, "legend": null}
   }},
  {"data": {"name": "meas"}, "mark": {"type": "point", "opacity": 0},
   "encoding": {
    "x": {"field": "f", "type": "quantitative", "scale": {"type": "log", "domain": [500, 20000], "nice": false}, "axis": {"orient": "top", "values": [600,700,800,900,1000,2000,3000,4000,5000,6000,7000,8000,9000,10000], "labels": false, "domain": false, "grid": false, "tickColor": "#262626", "tickSize": {"condition": {"test": "datum.value == 1000 || datum.value == 10000", "value": 6}, "value": 3}, "title": "Original BPM-BLkω", "titleFont": "Liberation Serif", "titleFontSize": 27, "titleFontWeight": "normal", "titleColor": "black", "titleBaseline": "alphabetic", "titleY": -14}},
    "y": {"field": "v", "type": "quantitative", "scale": {"domain": [0.5, 1.1], "nice": false, "zero": false}, "axis": {"orient": "right", "values": [0.55,0.6,0.65,0.7,0.75,0.8,0.85,0.9,0.95,1,1.05], "labels": false, "domain": false, "grid": false, "tickColor": "#262626", "tickSize": 4, "title": null}}
   }}
 ]
},
{
 "width": 489, "height": 171,
 "layer": [
  {"data": {"name": "pred"}, "transform": [{"filter": "datum.m == 'Original BPM-PVII'"}],
   "mark": {"type": "line", "clip": true, "strokeWidth": 2},
   "encoding": {
    "x": {"field": "f", "type": "quantitative", "scale": {"type": "log", "domain": [500, 20000], "nice": false},
      "axis": {"orient": "bottom", "values": [600,700,800,900,1000,2000,3000,4000,5000,6000,7000,8000,9000,10000], "labelExpr": "datum.value == 1000 ? '10³' : (datum.value == 10000 ? '10⁴' : '')", "labelFont": "Liberation Sans", "labelFontSize": 22, "labelColor": "black", "labelPadding": 17, "labelOverlap": false, "labelFlush": false, "domain": false, "tickColor": "#262626", "tickSize": {"condition": {"test": "datum.value == 1000 || datum.value == 10000", "value": 6}, "value": 3}, "grid": true, "gridColor": "#d0d0d0", "gridDash": {"condition": {"test": "datum.value == 1000 || datum.value == 10000", "value": []}, "value": [1, 3]}, "title": null}},
    "y": {"field": "v", "type": "quantitative", "scale": {"domain": [0.5, 1.1], "nice": false, "zero": false},
      "axis": {"orient": "left", "values": [0.55,0.6,0.65,0.7,0.75,0.8,0.85,0.9,0.95,1,1.05], "labelExpr": "abs(datum.value-0.6)<0.001 ? '0.6' : (abs(datum.value-0.8)<0.001 ? '0.8' : (abs(datum.value-1)<0.001 ? '1' : ''))", "labelFont": "Liberation Sans", "labelFontSize": 21, "labelColor": "black", "labelPadding": 8, "labelOverlap": false, "labelFlush": false, "domain": false, "tickColor": "#262626", "tickSize": 4, "grid": true, "gridColor": "#d6d6d6", "gridOpacity": {"condition": {"test": "abs(datum.value-0.6)<0.001 || abs(datum.value-0.8)<0.001 || abs(datum.value-1)<0.001", "value": 1}, "value": 0}, "title": null}},
    "stroke": {"field": "a", "type": "nominal", "scale": {"domain": ["2°","4°","6°","9°"], "range": ["#ffdf00","#ffb000","#ff7000","#ff0000"]}, "legend": null}
   }},
  {"data": {"name": "meas"},
   "mark": {"type": "line", "strokeWidth": 2, "point": {"filled": false, "fill": "white", "size": 30, "strokeWidth": 1.5}},
   "encoding": {
    "x": {"field": "f", "type": "quantitative", "scale": {"type": "log", "domain": [500, 20000], "nice": false}, "axis": null},
    "y": {"field": "v", "type": "quantitative", "scale": {"domain": [0.5, 1.1], "nice": false, "zero": false}, "axis": null},
    "color": {"field": "a", "type": "nominal", "scale": {"domain": [2, 4, 6, 9], "range": ["#c8c8c8","#999999","#5f5f5f","#000000"]}, "legend": null}
   }},
  {"data": {"name": "meas"}, "mark": {"type": "point", "opacity": 0},
   "encoding": {
    "x": {"field": "f", "type": "quantitative", "scale": {"type": "log", "domain": [500, 20000], "nice": false}, "axis": {"orient": "top", "values": [600,700,800,900,1000,2000,3000,4000,5000,6000,7000,8000,9000,10000], "labels": false, "domain": false, "grid": false, "tickColor": "#262626", "tickSize": {"condition": {"test": "datum.value == 1000 || datum.value == 10000", "value": 6}, "value": 3}, "title": "Original BPM-PVII", "titleFont": "Liberation Serif", "titleFontSize": 27, "titleFontWeight": "normal", "titleColor": "black", "titleBaseline": "alphabetic", "titleY": -14}},
    "y": {"field": "v", "type": "quantitative", "scale": {"domain": [0.5, 1.1], "nice": false, "zero": false}, "axis": {"orient": "right", "values": [0.55,0.6,0.65,0.7,0.75,0.8,0.85,0.9,0.95,1,1.05], "labels": false, "domain": false, "grid": false, "tickColor": "#262626", "tickSize": 4, "title": null}}
   }}
 ]
},
{
 "width": 480, "height": 171,
 "layer": [
  {"data": {"name": "pred"}, "transform": [{"filter": "datum.m == 'FB-Aniso TNO'"}],
   "mark": {"type": "line", "clip": true, "strokeWidth": 2, "interpolate": "monotone"},
   "encoding": {
    "x": {"field": "f", "type": "quantitative", "scale": {"type": "log", "domain": [500, 20000], "nice": false},
      "axis": {"orient": "bottom", "values": [600,700,800,900,1000,2000,3000,4000,5000,6000,7000,8000,9000,10000], "labelExpr": "datum.value == 1000 ? '10³' : (datum.value == 10000 ? '10⁴' : '')", "labelFont": "Liberation Sans", "labelFontSize": 22, "labelColor": "black", "labelPadding": 17, "labelOverlap": false, "labelFlush": false, "domain": false, "tickColor": "#262626", "tickSize": {"condition": {"test": "datum.value == 1000 || datum.value == 10000", "value": 6}, "value": 3}, "grid": true, "gridColor": "#d0d0d0", "gridDash": {"condition": {"test": "datum.value == 1000 || datum.value == 10000", "value": []}, "value": [1, 3]}, "title": "Freq [Hz]", "titleFont": "Liberation Serif", "titleFontSize": 25, "titleFontWeight": "normal", "titleColor": "black", "titleBaseline": "middle", "titleY": 31}},
    "y": {"field": "v", "type": "quantitative", "scale": {"domain": [0.5, 1.1], "nice": false, "zero": false},
      "axis": {"orient": "left", "values": [0.55,0.6,0.65,0.7,0.75,0.8,0.85,0.9,0.95,1,1.05], "labelExpr": "abs(datum.value-0.6)<0.001 ? '0.6' : (abs(datum.value-0.8)<0.001 ? '0.8' : (abs(datum.value-1)<0.001 ? '1' : ''))", "labelFont": "Liberation Sans", "labelFontSize": 21, "labelColor": "black", "labelPadding": 8, "labelOverlap": false, "labelFlush": false, "domain": false, "tickColor": "#262626", "tickSize": 4, "grid": true, "gridColor": "#d6d6d6", "gridOpacity": {"condition": {"test": "abs(datum.value-0.6)<0.001 || abs(datum.value-0.8)<0.001 || abs(datum.value-1)<0.001", "value": 1}, "value": 0}, "title": null}},
    "stroke": {"field": "a", "type": "nominal", "scale": {"domain": ["2°","4°","6°","9°"], "range": ["#ffdf00","#ffb000","#ff7000","#ff0000"]}, "legend": null}
   }},
  {"data": {"name": "meas"},
   "mark": {"type": "line", "strokeWidth": 2, "point": {"filled": false, "fill": "white", "size": 30, "strokeWidth": 1.5}},
   "encoding": {
    "x": {"field": "f", "type": "quantitative", "scale": {"type": "log", "domain": [500, 20000], "nice": false}, "axis": null},
    "y": {"field": "v", "type": "quantitative", "scale": {"domain": [0.5, 1.1], "nice": false, "zero": false}, "axis": null},
    "color": {"field": "a", "type": "nominal", "scale": {"domain": [2, 4, 6, 9], "range": ["#c8c8c8","#999999","#5f5f5f","#000000"]}, "legend": null}
   }},
  {"data": {"name": "meas"}, "mark": {"type": "point", "opacity": 0},
   "encoding": {
    "x": {"field": "f", "type": "quantitative", "scale": {"type": "log", "domain": [500, 20000], "nice": false}, "axis": {"orient": "top", "values": [600,700,800,900,1000,2000,3000,4000,5000,6000,7000,8000,9000,10000], "labels": false, "domain": false, "grid": false, "tickColor": "#262626", "tickSize": {"condition": {"test": "datum.value == 1000 || datum.value == 10000", "value": 6}, "value": 3}, "title": "FB-Aniso TNO", "titleFont": "Liberation Serif", "titleFontSize": 27, "titleFontWeight": "normal", "titleColor": "black", "titleBaseline": "alphabetic", "titleY": -14}},
    "y": {"field": "v", "type": "quantitative", "scale": {"domain": [0.5, 1.1], "nice": false, "zero": false}, "axis": {"orient": "right", "values": [0.55,0.6,0.65,0.7,0.75,0.8,0.85,0.9,0.95,1,1.05], "labels": false, "domain": false, "grid": false, "tickColor": "#262626", "tickSize": 4, "title": null}}
   }}
 ]
},
{
 "width": 489, "height": 171,
 "layer": [
  {"data": {"name": "pred"}, "transform": [{"filter": "datum.m == 'MK-Aniso TNO'"}],
   "mark": {"type": "line", "clip": true, "strokeWidth": 2, "interpolate": "monotone"},
   "encoding": {
    "x": {"field": "f", "type": "quantitative", "scale": {"type": "log", "domain": [500, 20000], "nice": false},
      "axis": {"orient": "bottom", "values": [600,700,800,900,1000,2000,3000,4000,5000,6000,7000,8000,9000,10000], "labelExpr": "datum.value == 1000 ? '10³' : (datum.value == 10000 ? '10⁴' : '')", "labelFont": "Liberation Sans", "labelFontSize": 22, "labelColor": "black", "labelPadding": 17, "labelOverlap": false, "labelFlush": false, "domain": false, "tickColor": "#262626", "tickSize": {"condition": {"test": "datum.value == 1000 || datum.value == 10000", "value": 6}, "value": 3}, "grid": true, "gridColor": "#d0d0d0", "gridDash": {"condition": {"test": "datum.value == 1000 || datum.value == 10000", "value": []}, "value": [1, 3]}, "title": "Freq [Hz]", "titleFont": "Liberation Serif", "titleFontSize": 25, "titleFontWeight": "normal", "titleColor": "black", "titleBaseline": "middle", "titleY": 31}},
    "y": {"field": "v", "type": "quantitative", "scale": {"domain": [0.5, 1.1], "nice": false, "zero": false},
      "axis": {"orient": "left", "values": [0.55,0.6,0.65,0.7,0.75,0.8,0.85,0.9,0.95,1,1.05], "labelExpr": "abs(datum.value-0.6)<0.001 ? '0.6' : (abs(datum.value-0.8)<0.001 ? '0.8' : (abs(datum.value-1)<0.001 ? '1' : ''))", "labelFont": "Liberation Sans", "labelFontSize": 21, "labelColor": "black", "labelPadding": 8, "labelOverlap": false, "labelFlush": false, "domain": false, "tickColor": "#262626", "tickSize": 4, "grid": true, "gridColor": "#d6d6d6", "gridOpacity": {"condition": {"test": "abs(datum.value-0.6)<0.001 || abs(datum.value-0.8)<0.001 || abs(datum.value-1)<0.001", "value": 1}, "value": 0}, "title": null}},
    "stroke": {"field": "a", "type": "nominal", "scale": {"domain": ["2°","4°","6°","9°"], "range": ["#ffdf00","#ffb000","#ff7000","#ff0000"]}, "legend": null}
   }},
  {"data": {"name": "meas"},
   "mark": {"type": "line", "strokeWidth": 2, "point": {"filled": false, "fill": "white", "size": 30, "strokeWidth": 1.5}},
   "encoding": {
    "x": {"field": "f", "type": "quantitative", "scale": {"type": "log", "domain": [500, 20000], "nice": false}, "axis": null},
    "y": {"field": "v", "type": "quantitative", "scale": {"domain": [0.5, 1.1], "nice": false, "zero": false}, "axis": null},
    "color": {"field": "a", "type": "nominal", "scale": {"domain": [2, 4, 6, 9], "range": ["#c8c8c8","#999999","#5f5f5f","#000000"]}, "legend": null}
   }},
  {"data": {"name": "meas"}, "mark": {"type": "point", "opacity": 0},
   "encoding": {
    "x": {"field": "f", "type": "quantitative", "scale": {"type": "log", "domain": [500, 20000], "nice": false}, "axis": {"orient": "top", "values": [600,700,800,900,1000,2000,3000,4000,5000,6000,7000,8000,9000,10000], "labels": false, "domain": false, "grid": false, "tickColor": "#262626", "tickSize": {"condition": {"test": "datum.value == 1000 || datum.value == 10000", "value": 6}, "value": 3}, "title": "MK-Aniso TNO", "titleFont": "Liberation Serif", "titleFontSize": 27, "titleFontWeight": "normal", "titleColor": "black", "titleBaseline": "alphabetic", "titleY": -14}},
    "y": {"field": "v", "type": "quantitative", "scale": {"domain": [0.5, 1.1], "nice": false, "zero": false}, "axis": {"orient": "right", "values": [0.55,0.6,0.65,0.7,0.75,0.8,0.85,0.9,0.95,1,1.05], "labels": false, "domain": false, "grid": false, "tickColor": "#262626", "tickSize": 4, "title": null}}
   }}
 ]
}
]
}
